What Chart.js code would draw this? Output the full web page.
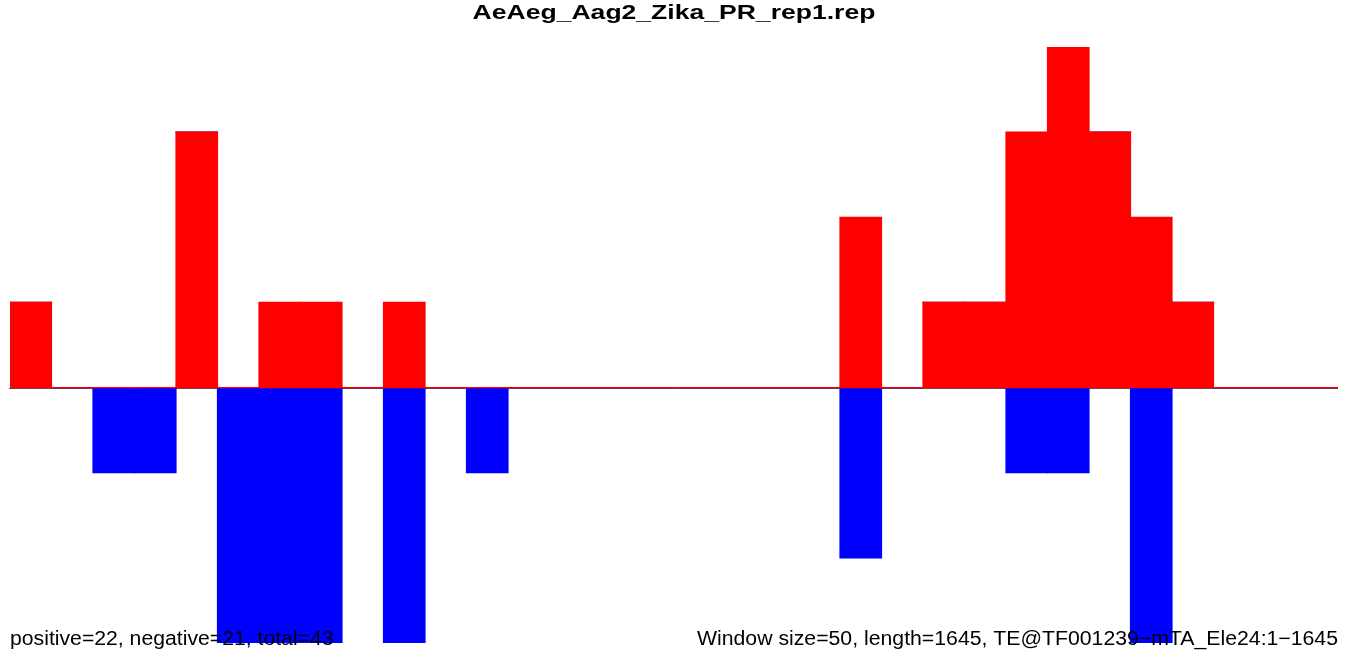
<!DOCTYPE html>
<html>
<head>
<meta charset="utf-8">
<script src="https://cdn.jsdelivr.net/npm/chart.js@4/dist/chart.umd.min.js"></script>
<style>
    html, body { margin: 0; padding: 0; background: #fff; }
    #wrap { width: 1350px; height: 656px; position: relative; }
</style>
</head>
<body>
<div id="wrap"><canvas id="chart"></canvas></div>
<script>
// 32 windows of 50 bp along the 1645 bp element
const windows = Array.from({ length: 32 }, (_, i) => String(i * 50 + 1));

const positiveCounts = [
    1, 0, 0, 0, 3, 0, 1, 1, 0, 1, 0, 0, 0, 0, 0, 0,
    0, 0, 0, 0, 2, 0, 1, 1, 3, 4, 3, 2, 1, 0, 0, 0,
];
const negativeCounts = [
    0, 0, -1, -1, 0, -3, -3, -3, 0, -3, 0, -1, 0, 0, 0, 0,
    0, 0, 0, 0, -2, 0, 0, 0, -1, -1, 0, -3, 0, 0, 0, 0,
];

const titleText = 'AeAeg_Aag2_Zika_PR_rep1.rep';
const leftNote = 'positive=22, negative=21, total=43';
const rightNote = 'Window size=50, length=1645, TE@TF001239\u2212mTA_Ele24:1\u22121645';

const fontFamily = '"Liberation Sans", Arial, Helvetica, sans-serif';

// the original device draws text a little wider than Liberation
const drawStretched = (ctx, text, x, y, align, stretch) => {
    ctx.save();
    ctx.translate(x, y);
    ctx.scale(stretch, 1);
    ctx.textAlign = align;
    ctx.fillText(text, 0, 0);
    ctx.restore();
};

const annotations = {
    id: 'annotations',
    beforeDatasetsDraw(chart) {
        const { ctx, chartArea, scales } = chart;
        const y0 = Math.round(scales.y.getPixelForValue(0)) + 0.5;
        ctx.save();
        ctx.strokeStyle = '#555555';
        ctx.lineWidth = 1;
        ctx.beginPath();
        ctx.moveTo(chartArea.left - 1, y0);
        ctx.lineTo(chartArea.right, y0);
        ctx.stroke();
        ctx.restore();
    },
    afterDraw(chart) {
        const { ctx } = chart;
        ctx.save();
        ctx.fillStyle = '#000';
        ctx.textBaseline = 'alphabetic';

        ctx.font = `bold 21px ${fontFamily}`;
        drawStretched(ctx, titleText, 674, 19, 'center', 1.264);

        ctx.font = `20px ${fontFamily}`;
        drawStretched(ctx, leftNote, 10, 645, 'left', 1.06);
        drawStretched(ctx, rightNote, 1338, 645, 'right', 1.062);
        ctx.restore();
    },
};

new Chart(document.getElementById('chart'), {
    type: 'bar',
    data: {
        labels: windows,
        datasets: [
            {
                label: 'positive',
                data: positiveCounts,
                backgroundColor: '#ff0000',
                borderWidth: 0,
                inflateAmount: 0.6,
                barPercentage: 1,
                categoryPercentage: 1,
            },
            {
                label: 'negative',
                data: negativeCounts,
                backgroundColor: '#0000ff',
                borderWidth: 0,
                inflateAmount: 0.6,
                barPercentage: 1,
                categoryPercentage: 1,
            },
        ],
    },
    options: {
        responsive: true,
        maintainAspectRatio: false,
        animation: false,
        layout: {
            padding: { left: 10, right: 12, top: 47, bottom: 13 },
        },
        scales: {
            x: { display: false, stacked: true },
            y: { display: false, stacked: true, min: -3, max: 4 },
        },
        plugins: {
            legend: { display: false },
            tooltip: { enabled: false },
        },
    },
    plugins: [annotations],
});
</script>
</body>
</html>
